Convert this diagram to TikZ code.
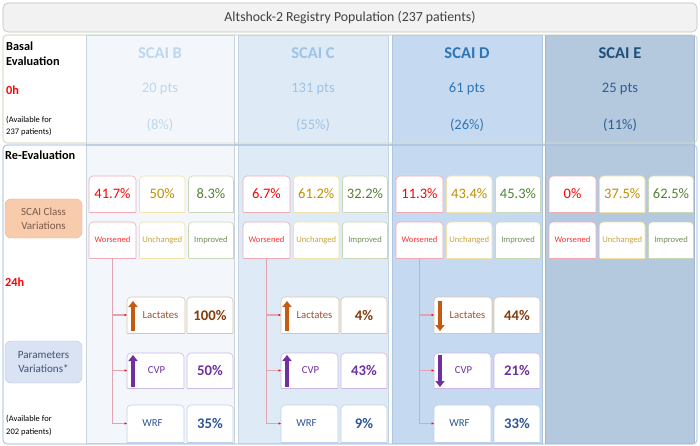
\documentclass[tikz,border=0pt]{standalone}
\usepackage{fontspec}
\setmainfont{Carlito}
\usetikzlibrary{arrows.meta}
\definecolor{titleF}{HTML}{F2F2F2}
\definecolor{titleB}{HTML}{BFBFBF}
\definecolor{titleT}{HTML}{404040}
\definecolor{secA}{HTML}{D6DFCB}
\definecolor{secB}{HTML}{B9CCE4}
\definecolor{secBd}{HTML}{A9BED9}
\definecolor{colB}{HTML}{F3F7FC}
\definecolor{colBb}{HTML}{C9D3DE}
\definecolor{colC}{HTML}{DEEBF7}
\definecolor{colCb}{HTML}{C3D4E6}
\definecolor{colD}{HTML}{C5DAF0}
\definecolor{colDb}{HTML}{AEC6DF}
\definecolor{colE}{HTML}{B4C8DE}
\definecolor{colEb}{HTML}{A0B6CF}
\definecolor{hB}{HTML}{BDD7EE}
\definecolor{hC}{HTML}{9DC3E6}
\definecolor{hD}{HTML}{2E75B6}
\definecolor{hE}{HTML}{1F4E79}
\definecolor{pE}{HTML}{2E5F95}
\definecolor{cR}{HTML}{FF0000}
\definecolor{cRl}{HTML}{FF3333}
\definecolor{cG}{HTML}{BF9000}
\definecolor{cGl}{HTML}{C9A43A}
\definecolor{cN}{HTML}{548235}
\definecolor{cNl}{HTML}{6F8F55}
\definecolor{bW}{HTML}{F0AAB6}
\definecolor{bU}{HTML}{F0E2A8}
\definecolor{bI}{HTML}{C8D8B8}
\definecolor{cLac}{HTML}{A0522D}
\definecolor{cLacV}{HTML}{843C0C}
\definecolor{bLac}{HTML}{DCC4A8}
\definecolor{cOr}{HTML}{C55A11}
\definecolor{cPu}{HTML}{7030A0}
\definecolor{bPu}{HTML}{CDB8E6}
\definecolor{cWr}{HTML}{2F5597}
\definecolor{bWr}{HTML}{C0D0E8}
\definecolor{lineP}{HTML}{E2A4B0}
\definecolor{scaiF}{HTML}{F8CBAD}
\definecolor{scaiB}{HTML}{F4B183}
\definecolor{scaiT}{HTML}{7B5A48}
\definecolor{parF}{HTML}{DAE3F3}
\definecolor{parB}{HTML}{B4C7E7}
\definecolor{parT}{HTML}{3E5275}
% name, x1, y1, x2, y2, border colour, text, node options
\newcommand\tbx[8]{%
  \path[fill=white,draw=#6,line width=0.6pt,rounded corners=4pt]
    (#2,#5) -- (#2,#3) -- (#4,#3) -- (#4,#5);
  \draw[#6,line width=0.6pt] (#2,#5) -- (#4,#5);
  \node[inner sep=0pt,outer sep=0pt,minimum width={(#4)-(#2)},
        minimum height={(#5)-(#3)},#8] (#1)
        at ({((#2)+(#4))/2},{((#3)+(#5))/2}) {#7};}
\begin{document}
\begin{tikzpicture}[x=1pt,y=-1pt,
  lefttxt/.style={anchor=west,inner sep=0pt},
  boldlbl/.style={font=\fontsize{12.3}{14}\selectfont\bfseries},
  small/.style={font=\fontsize{8.5}{10}\selectfont},
  hdr/.style={font=\fontsize{16.5}{18}\selectfont\bfseries},
  pts/.style={font=\fontsize{14.5}{16}\selectfont},
  pct/.style={font=\fontsize{14.5}{16}\selectfont},
  lbl/.style={font=\fontsize{8.6}{10}\selectfont},
  parl/.style={font=\fontsize{10.7}{12}\selectfont},
  parv/.style={font=\fontsize{14.7}{16}\selectfont\bfseries},
  conn/.style={color=lineP,line width=1.2pt,-{Latex[length=2.5pt,width=2.5pt,color=cR]}},
  bigarr/.style={line width=4pt,-{Triangle[length=6pt,width=9pt]}}
]
\useasboundingbox (0,0) rectangle (700,446);
\fill[white] (0,0) rectangle (700,446);
% title
\node[draw=titleB,fill=titleF,rounded corners=5pt,minimum width=694pt,minimum height=29pt,
      font=\fontsize{13.8}{16}\selectfont,text=titleT,line width=0.6pt] (title) at (350,17.5)
      {Altshock-2 Registry Population (237 patients)};
% sections and columns
\draw[secA,fill=white,rounded corners=4pt,line width=0.8pt] (3,35) rectangle (697,143);
\draw[secB,fill=white,rounded corners=4pt,line width=0.8pt] (3,145) rectangle (697,444);
\filldraw[fill=colB,draw=colBb,line width=0.6pt] (86,35) rectangle (234,443);
\filldraw[fill=colC,draw=colCb,line width=0.6pt] (238,35) rectangle (388,443);
\filldraw[fill=colD,draw=colDb,line width=0.6pt] (392,35) rectangle (542,443);
\filldraw[fill=colE,draw=colEb,line width=0.6pt] (545,35) rectangle (694,443);
\draw[secA,rounded corners=4pt,line width=0.8pt] (3,35) rectangle (697,143);
\draw[secB,rounded corners=4pt,line width=0.8pt] (3,145) rectangle (697,444);
\draw[secBd,line width=1.5pt,opacity=0.6] (86,145) -- (694,145);
% left labels
\node[lefttxt,boldlbl] (basal) at (6,46) {Basal};
\node[lefttxt,boldlbl] (evalu) at (6,61) {Evaluation};
\node[lefttxt,boldlbl,text=cR] (h0) at (6,90) {0h};
\node[lefttxt,small] (av1) at (6,120) {(Available for};
\node[lefttxt,small] (av2) at (6,132) {237 patients)};
\node[lefttxt,boldlbl] (reev) at (5,155) {Re-Evaluation};
\node[draw=scaiB,fill=scaiF,rounded corners=6pt,minimum width=77pt,minimum height=39pt,
      align=center,text=scaiT,font=\fontsize{11}{13.5}\selectfont] (scai) at (43.5,218.5)
      {SCAI Class\\Variations};
\node[lefttxt,boldlbl,text=cR] (h24) at (5,282) {24h};
\node[draw=parB,fill=parF,rounded corners=6pt,minimum width=77pt,minimum height=42pt,
      align=center,text=parT,font=\fontsize{11.1}{14}\selectfont] (para) at (43.5,362)
      {Parameters\\Variations*};
\node[lefttxt,small] (av3) at (6,419) {(Available for};
\node[lefttxt,small] (av4) at (6,432) {202 patients)};
% column headers
\foreach \cx/\n/\nm/\np/\nq/\ca/\cb in {160/B/B/20/8/hB/hB, 313/C/C/131/55/hC/hC,
    467/D/D/61/26/hD/hD, 620/E/E/25/11/hE/pE}{
  \node[hdr,text=\ca] (s\n) at (\cx,53) {SCAI \nm};
  \node[pts,text=\cb] (n\n) at (\cx,89) {\np{} pts};
  \node[pts,text=\cb] (q\n) at (\cx,125) {(\nq\%)};
}
% class variation boxes
\foreach \ox/\n/\pa/\pb/\pc in {89/B/41.7/50/8.3, 243/C/6.7/61.2/32.2,
    396/D/11.3/43.4/45.3, 549/E/0/37.5/62.5}{
  \tbx{a\n}{\ox}{176}{\ox+47}{212}{bW}{\pa\%}{pct,text=cR}
  \tbx{b\n}{\ox+50.5}{176}{\ox+96}{212}{bU}{\pb\%}{pct,text=cG}
  \tbx{c\n}{\ox+99.5}{176}{\ox+144.5}{212}{bI}{\pc\%}{pct,text=cN}
  \tbx{w\n}{\ox}{222}{\ox+47}{258}{bW}{Worsened}{lbl,text=cRl}
  \tbx{u\n}{\ox+50.5}{222}{\ox+96}{258}{bU}{Unchanged}{lbl,text=cGl}
  \tbx{i\n}{\ox+99.5}{222}{\ox+144.5}{258}{bI}{Improved}{lbl,text=cNl}
}
% parameter boxes
\foreach \ox/\n/\va/\vb/\vc/\ua/\ub/\ka/\kb in {89/B/100/50/35/331/301/387/355,
    243/C/4/43/9/331/301/387/355, 396/D/44/21/33/301/331/355/387}{
  \tbx{lac\n}{\ox+38}{297}{\ox+96}{333}{bLac}{\hspace*{9pt}Lactates}{parl,text=cLac}
  \tbx{lv\n}{\ox+98}{297}{\ox+144}{333}{bLac}{\va\%}{parv,text=cLacV}
  \tbx{cvp\n}{\ox+38}{353}{\ox+95}{388}{bPu}{\hspace*{2pt}CVP}{parl,text=cPu}
  \tbx{cv\n}{\ox+98}{353}{\ox+144}{388}{bPu}{\vb\%}{parv,text=cPu}
  \tbx{wrf\n}{\ox+38}{405}{\ox+95}{442}{bWr}{WRF\hspace*{6pt}}{parl,text=cWr}
  \tbx{wv\n}{\ox+98}{405}{\ox+144}{442}{bWr}{\vc\%}{parv,text=cWr}
  \draw[bigarr,cOr] (\ox+44,\ua) -- (\ox+44,\ub);
  \draw[bigarr,cPu] (\ox+44,\ka) -- (\ox+44,\kb);
  \draw[conn] (w\n.south) |- (wrf\n.west);
  \draw[conn] (w\n.south) |- (cvp\n.west);
  \draw[conn] (w\n.south) |- (lac\n.west);
}
\end{tikzpicture}
\end{document}
